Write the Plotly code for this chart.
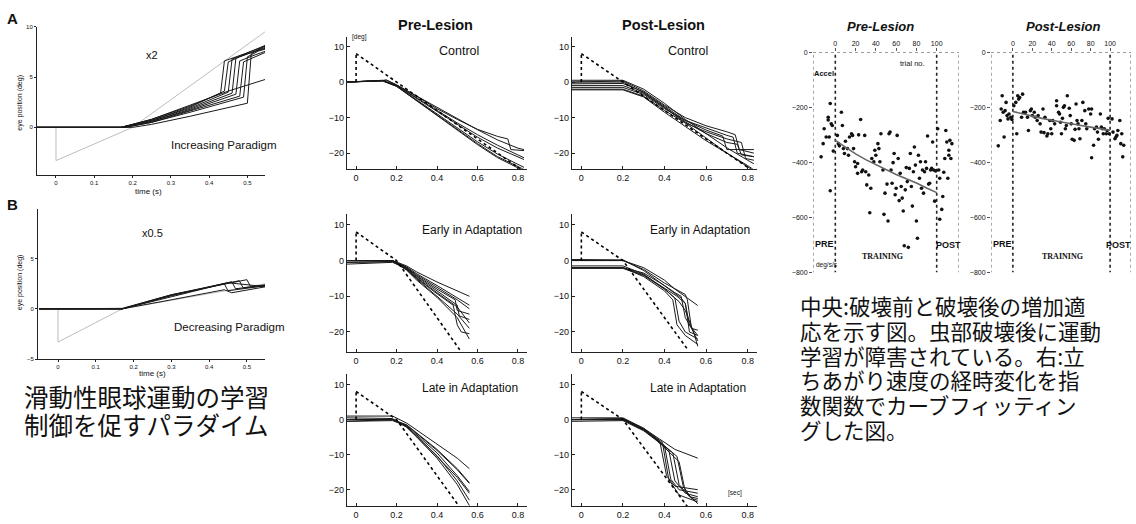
import plotly.graph_objects as go

# ======================= DATA =======================
# Panel A : increasing paradigm (x2) - (time s, eye position deg)
incr_target = [(0, 0), (0, -3.3), (0.2, 0.0), (0.55, 9.6)]
incr_traces = [
    [(-0.05, 0), (0.17, 0), (0.25, 0.8), (0.35, 2.1), (0.43, 3.4), (0.44, 6.6), (0.47, 7.0), (0.55, 8.1)],
    [(-0.05, 0), (0.17, 0), (0.25, 0.7), (0.35, 2.0), (0.44, 3.6), (0.45, 6.5), (0.48, 7.0), (0.55, 8.0)],
    [(-0.05, 0), (0.17, 0), (0.25, 0.7), (0.35, 1.9), (0.45, 3.5), (0.46, 6.8), (0.50, 7.3), (0.55, 7.9)],
    [(-0.05, 0), (0.17, 0), (0.25, 0.6), (0.35, 1.8), (0.46, 3.4), (0.47, 6.9), (0.50, 7.4), (0.55, 8.2)],
    [(-0.05, 0), (0.17, 0), (0.25, 0.6), (0.35, 1.7), (0.47, 3.3), (0.48, 6.6), (0.52, 7.2), (0.55, 7.6)],
    [(-0.05, 0), (0.18, 0), (0.25, 0.5), (0.35, 1.6), (0.48, 3.1), (0.49, 6.5), (0.52, 7.0), (0.55, 7.5)],
    [(-0.05, 0), (0.18, 0), (0.25, 0.5), (0.35, 1.5), (0.49, 3.0), (0.50, 7.0), (0.53, 7.6), (0.55, 7.8)],
    [(-0.05, 0), (0.20, 0), (0.25, 0.3), (0.35, 1.1), (0.50, 2.4), (0.51, 7.3), (0.55, 8.2)],
    [(-0.05, 0), (0.17, 0), (0.25, 0.8), (0.35, 2.2), (0.45, 3.6), (0.55, 4.8)],
]

# Panel B : decreasing paradigm (x0.5)
decr_target = [(0, 0), (0, -3.3), (0.17, 0.0), (0.55, 2.5)]
decr_traces = [
    [(-0.05, 0), (0.17, 0), (0.30, 1.2), (0.44, 2.5), (0.45, 1.8), (0.55, 2.3)],
    [(-0.05, 0), (0.17, 0), (0.30, 1.3), (0.46, 2.7), (0.47, 2.0), (0.55, 2.3)],
    [(-0.05, 0), (0.17, 0), (0.30, 1.35), (0.48, 2.8), (0.49, 2.1), (0.55, 2.35)],
    [(-0.05, 0), (0.17, 0), (0.30, 1.4), (0.50, 2.9), (0.51, 2.2), (0.55, 2.4)],
    [(-0.05, 0), (0.17, 0), (0.30, 0.9), (0.44, 1.9), (0.46, 1.6), (0.55, 2.2)],
    [(-0.05, 0), (0.17, 0.05), (0.30, 1.4), (0.45, 2.6), (0.55, 2.2)],
]

# Middle panels: target (step + ramp)
ctrl_target = [(0, 8), (0.83, -25.2)]
adapt_target = [(0, 8), (0.2, 0), (0.5125, -25)]
target_step = [(0, 0), (0, 8)]

ctrl_pre = [
    [(-0.045, 0), (0.12, 0.3), (0.15, 0.6), (0.2, -0.8), (0.3, -4.0), (0.4, -7.5), (0.5, -10.5), (0.6, -13.3), (0.7, -15.3), (0.75, -16.0), (0.765, -19.0), (0.83, -19.3)],
    [(-0.045, 0), (0.13, 0.4), (0.15, 0.5), (0.2, -0.8), (0.3, -4.0), (0.4, -7.2), (0.5, -10.3), (0.6, -13.4), (0.7, -16.3), (0.8, -18.6), (0.83, -19.0)],
    [(-0.045, 0), (0.13, 0.5), (0.2, -0.9), (0.3, -4.5), (0.4, -8.0), (0.5, -11.5), (0.6, -14.8), (0.7, -17.8), (0.8, -20.5), (0.83, -21.3)],
    [(-0.045, 0), (0.13, 0.4), (0.2, -1.0), (0.3, -4.6), (0.4, -8.3), (0.5, -12.0), (0.6, -15.5), (0.7, -18.6), (0.8, -21.2), (0.83, -21.8)],
    [(-0.045, 0), (0.13, 0.4), (0.2, -1.1), (0.3, -5.0), (0.4, -8.8), (0.5, -12.8), (0.6, -16.8), (0.7, -20.3), (0.8, -23.3), (0.83, -24.0)],
    [(-0.045, 0), (0.13, 0.3), (0.2, -1.2), (0.3, -5.2), (0.4, -9.2), (0.5, -13.3), (0.6, -17.3), (0.7, -21.0), (0.8, -23.9), (0.83, -24.6)],
    [(-0.045, 0), (0.13, 0.4), (0.2, -1.2), (0.3, -5.3), (0.4, -9.4), (0.5, -13.6), (0.6, -17.6), (0.7, -21.3), (0.8, -24.3), (0.83, -25.0)],
]
ctrl_post = [
    [(-0.045, 0), (0.2, 0.3), (0.3, -2.5), (0.4, -6.5), (0.5, -10.0), (0.6, -12.3), (0.7, -14.0), (0.74, -14.8), (0.76, -19.0), (0.83, -20.0)],
    [(-0.045, -1.5), (0.2, -1.5), (0.3, -3.5), (0.4, -7.5), (0.5, -10.8), (0.6, -13.0), (0.7, -15.0), (0.73, -15.5), (0.75, -20.0), (0.83, -21.0)],
    [(-0.045, -2.0), (0.2, -2.0), (0.3, -4.0), (0.4, -8.0), (0.5, -11.5), (0.6, -14.0), (0.7, -16.0), (0.77, -17.0), (0.79, -21.5), (0.83, -22.0)],
    [(-0.045, 0.5), (0.2, 0.5), (0.3, -2.0), (0.4, -6.0), (0.5, -10.5), (0.6, -14.5), (0.7, -18.5), (0.8, -22.0), (0.83, -23.0)],
    [(-0.045, -1.0), (0.2, -1.0), (0.3, -3.2), (0.4, -7.2), (0.5, -11.5), (0.6, -15.8), (0.7, -20.0), (0.8, -23.5), (0.83, -24.7)],
    [(-0.045, 0), (0.2, 0), (0.3, -3.0), (0.4, -7.0), (0.5, -11.2), (0.6, -14.5), (0.7, -17.0), (0.75, -17.5), (0.77, -20.5), (0.83, -21.0)],
    [(-0.045, -2.2), (0.2, -2.2), (0.3, -4.2), (0.4, -8.5), (0.5, -12.5), (0.6, -16.5), (0.7, -20.0), (0.8, -24.0), (0.83, -25.0)],
    [(-0.045, -0.5), (0.2, -0.4), (0.3, -2.8), (0.4, -6.8), (0.5, -10.8), (0.6, -13.5), (0.68, -15.2), (0.7, -19.0), (0.83, -19.0)],
]
early_pre = [
    [(-0.045, 0), (0.18, 0), (0.25, -1.5), (0.3, -3.2), (0.4, -6.0), (0.5, -8.5), (0.56, -10.0)],
    [(-0.045, 0), (0.18, 0), (0.25, -1.8), (0.3, -3.7), (0.4, -7.0), (0.5, -10.3), (0.56, -12.5)],
    [(-0.045, -0.5), (0.18, -0.3), (0.25, -2.0), (0.3, -4.0), (0.4, -7.5), (0.5, -11.0), (0.56, -13.5)],
    [(-0.045, 0), (0.18, 0), (0.25, -2.0), (0.3, -4.3), (0.4, -8.0), (0.49, -11.0), (0.5, -14.0), (0.56, -15.0)],
    [(-0.045, -1.0), (0.18, -0.5), (0.25, -2.2), (0.3, -4.5), (0.4, -8.5), (0.5, -12.5), (0.51, -15.5), (0.56, -16.5)],
    [(-0.045, 0), (0.18, 0), (0.25, -2.3), (0.3, -4.8), (0.4, -9.0), (0.5, -13.0), (0.56, -17.5)],
    [(-0.045, 0), (0.18, 0), (0.25, -2.5), (0.3, -5.0), (0.4, -9.3), (0.48, -12.5), (0.5, -18.0), (0.52, -20.0), (0.56, -20.5)],
    [(-0.045, -0.5), (0.18, -0.3), (0.25, -2.6), (0.3, -5.2), (0.4, -10.0), (0.5, -15.0), (0.56, -19.0)],
    [(-0.045, 0), (0.18, 0), (0.25, -2.7), (0.3, -5.5), (0.4, -10.3), (0.5, -16.0), (0.56, -22.0)],
]
early_post = [
    [(-0.045, 0), (0.2, 0), (0.3, -2.0), (0.4, -5.5), (0.45, -8.0), (0.5, -10.0), (0.56, -12.6)],
    [(-0.045, -2.0), (0.2, -2.0), (0.3, -3.5), (0.4, -7.0), (0.45, -9.0), (0.48, -10.0), (0.5, -16.0), (0.53, -19.0), (0.56, -19.5)],
    [(-0.045, -2.0), (0.2, -2.0), (0.3, -4.0), (0.4, -7.8), (0.46, -10.0), (0.5, -12.0), (0.52, -18.0), (0.56, -21.0)],
    [(-0.045, -1.5), (0.2, -1.5), (0.3, -3.8), (0.4, -8.0), (0.45, -10.5), (0.47, -17.0), (0.5, -20.0), (0.56, -22.0)],
    [(-0.045, 0), (0.2, 0), (0.3, -2.5), (0.4, -6.3), (0.5, -9.5), (0.51, -11.0), (0.53, -19.0), (0.56, -22.5)],
    [(-0.045, -2.0), (0.2, -2.0), (0.3, -4.5), (0.4, -8.5), (0.44, -11.0), (0.46, -18.0), (0.5, -21.0), (0.56, -23.5)],
    [(-0.045, -2.2), (0.2, -2.2), (0.3, -4.2), (0.4, -8.0), (0.47, -11.5), (0.5, -14.0), (0.54, -20.0), (0.56, -24.0)],
    [(-0.045, 0.3), (0.2, 0.2), (0.3, -2.8), (0.4, -7.0), (0.48, -10.5), (0.5, -12.0), (0.52, -20.0), (0.56, -21.0)],
]
late_pre = [
    [(-0.045, 1.0), (0.18, 1.0), (0.25, -1.0), (0.3, -3.0), (0.4, -7.0), (0.5, -11.0), (0.56, -14.0)],
    [(-0.045, 0), (0.18, 0), (0.25, -1.5), (0.3, -3.8), (0.4, -8.5), (0.5, -14.0), (0.56, -18.0)],
    [(-0.045, 0), (0.18, 0), (0.25, -1.6), (0.3, -4.0), (0.4, -8.8), (0.5, -14.3), (0.56, -18.2)],
    [(-0.045, -0.5), (0.18, -0.3), (0.25, -1.8), (0.3, -4.3), (0.4, -9.5), (0.5, -16.0), (0.56, -20.5)],
    [(-0.045, 0), (0.18, 0), (0.25, -2.0), (0.3, -4.7), (0.4, -10.3), (0.5, -17.5), (0.56, -23.0)],
    [(-0.045, 0.5), (0.18, 0.3), (0.25, -2.2), (0.3, -5.0), (0.4, -11.0), (0.5, -18.5), (0.56, -24.5)],
    [(-0.045, -0.5), (0.18, 0), (0.25, -2.1), (0.3, -4.8), (0.4, -10.5), (0.5, -16.5), (0.56, -21.0)],
]
late_post = [
    [(-0.045, 0), (0.2, 0.3), (0.3, -2.5), (0.36, -5.0), (0.45, -8.5), (0.56, -11.0)],
    [(-0.045, 0), (0.2, 0), (0.3, -2.8), (0.36, -5.5), (0.38, -7.0), (0.41, -16.0), (0.45, -19.0), (0.56, -20.0)],
    [(-0.045, 0.5), (0.2, 0.5), (0.3, -2.5), (0.36, -5.3), (0.4, -7.5), (0.43, -17.0), (0.47, -20.0), (0.56, -21.0)],
    [(-0.045, 0), (0.2, 0), (0.3, -3.0), (0.36, -5.8), (0.42, -8.5), (0.45, -17.5), (0.5, -21.0), (0.56, -22.0)],
    [(-0.045, -0.5), (0.2, -0.3), (0.3, -3.2), (0.36, -6.0), (0.44, -9.5), (0.47, -18.5), (0.52, -22.0), (0.56, -22.5)],
    [(-0.045, 0), (0.2, 0), (0.3, -2.7), (0.36, -5.5), (0.46, -10.5), (0.49, -19.0), (0.53, -22.5), (0.56, -23.0)],
    [(-0.045, 0), (0.2, 0), (0.3, -3.0), (0.36, -5.7), (0.47, -12.0), (0.5, -20.5), (0.56, -24.0)],
    [(-0.045, 0), (0.2, 0.2), (0.3, -2.6), (0.36, -5.2), (0.39, -6.5), (0.42, -17.0), (0.47, -21.5), (0.56, -23.5)],
]

# Right panels: acceleration (deg/s/s) vs trial no.
pre_pre = [(-14, -380), (-12, -332), (-11, -278), (-9, -308), (-7, -246), (-7, -236), (-5, -186),
           (-4, -260), (-3, -266), (-2, -359), (-5, -503), (-6, -308)]
pre_train = [(2, -302), (3, -332), (4, -340), (6, -218), (7, -266), (8, -350), (9, -368), (10, -323),
             (12, -350), (13, -374), (14, -308), (16, -296), (17, -302), (18, -350), (19, -398), (20, -416),
             (22, -440), (22, -404), (23, -300), (25, -244), (26, -434), (27, -428), (29, -302), (30, -434),
             (31, -482), (33, -446), (34, -583), (35, -494), (36, -386), (38, -398), (39, -356), (40, -374),
             (42, -332), (43, -350), (44, -398), (45, -296), (47, -428), (48, -589), (49, -512), (51, -479),
             (52, -613), (53, -296), (54, -290), (55, -428), (56, -476), (57, -401), (58, -368), (59, -518),
             (60, -494), (61, -302), (62, -386), (63, -539), (64, -440), (65, -488), (66, -530), (67, -577),
             (68, -703), (69, -500), (70, -419), (71, -470), (72, -709), (73, -422), (74, -368), (75, -488),
             (76, -559), (77, -434), (78, -344), (79, -410), (80, -613), (81, -676), (82, -374), (83, -458),
             (84, -398), (85, -494), (86, -428), (87, -512), (88, -434), (89, -398), (90, -422), (91, -304),
             (92, -479), (93, -476), (94, -428), (95, -422), (96, -326), (97, -428), (98, -541), (99, -431)]
pre_post = [(101, -278), (102, -428), (103, -458), (103, -607), (105, -571), (106, -524), (107, -436),
            (108, -386), (109, -284), (110, -326), (111, -458), (112, -356), (112, -374), (113, -320),
            (114, -386), (115, -332)]
post_pre = [(-15, -340), (-13, -248), (-12, -206), (-11, -158), (-10, -218), (-9, -308), (-8, -212),
            (-7, -182), (-6, -230), (-5, -242), (-4, -224), (-2, -236), (-1, -244)]
post_train = [(1, -194), (3, -182), (4, -296), (5, -158), (6, -170), (7, -164), (9, -236), (10, -152),
              (11, -218), (13, -218), (15, -236), (16, -284), (18, -212), (19, -206), (20, -230), (22, -218),
              (23, -236), (25, -248), (26, -230), (28, -260), (29, -290), (31, -206), (32, -292), (33, -236),
              (35, -304), (36, -296), (38, -248), (39, -278), (40, -296), (41, -248), (43, -260), (45, -194),
              (45, -176), (47, -218), (48, -224), (49, -254), (50, -296), (51, -240), (52, -200), (53, -194),
              (54, -278), (55, -266), (56, -158), (58, -203), (59, -230), (60, -260), (61, -316), (63, -320),
              (64, -280), (65, -188), (66, -248), (67, -260), (68, -278), (69, -314), (71, -248), (72, -182),
              (74, -212), (75, -260), (76, -278), (78, -206), (80, -224), (81, -383), (81, -206), (83, -338),
              (84, -278), (86, -272), (87, -290), (88, -316), (90, -224), (91, -272), (92, -278), (93, -296),
              (94, -278), (96, -296), (97, -284), (98, -240), (99, -296)]
post_post = [(102, -242), (103, -290), (105, -314), (106, -308), (107, -302), (108, -284), (110, -248),
             (111, -332), (112, -296), (113, -380), (114, -338)]
fit_trials = [0, 10, 20, 30, 40, 50, 60, 70, 80, 90, 100]
pre_fit = [-320, -346, -369, -390, -409, -427, -444, -460, -475, -493, -510]
post_fit = [-215, -224, -232, -240, -247, -254, -260, -266, -272, -278, -283]

left_caption = ["滑動性眼球運動の学習", "制御を促すパラダイム"]
right_caption = ["中央:破壊前と破壊後の増加適", "応を示す図。虫部破壊後に運動", "学習が障害されている。右:立",
                 "ちあがり速度の経時変化を指", "数関数でカーブフィッティン", "グした図。"]

# ======================= FIGURE =======================
W, H = 1136, 524
FONT = "Liberation Sans, Arial, sans-serif"
JP = "Noto Sans CJK JP"


def dx(a, b):
    return [a / W, b / W]


def dy(top, bottom):
    return [1 - bottom / H, 1 - top / H]


fig = go.Figure()


def add_lines(traces, ax, color="#1a1a1a", width=1.0, dash="solid"):
    for tr in traces:
        fig.add_trace(go.Scatter(x=[p[0] for p in tr], y=[p[1] for p in tr], mode="lines",
                                 line=dict(color=color, width=width, dash=dash),
                                 xaxis="x" + ax, yaxis="y" + ax, showlegend=False, hoverinfo="skip"))


def add_pts(pts, ax):
    fig.add_trace(go.Scatter(x=[p[0] for p in pts], y=[p[1] for p in pts], mode="markers",
                             marker=dict(color="#111", size=3.6), xaxis="x" + ax, yaxis="y" + ax,
                             showlegend=False, hoverinfo="skip"))


# A & B
add_lines([incr_target], "1", color="#bdbdbd", width=1)
add_lines(incr_traces, "1", width=1)
add_lines([decr_target], "2", color="#bdbdbd", width=1)
add_lines(decr_traces, "2", width=1)

# middle
for ax, traces, tgt in [("3", ctrl_pre, ctrl_target), ("4", ctrl_post, ctrl_target),
                        ("5", early_pre, adapt_target), ("6", early_post, adapt_target),
                        ("7", late_pre, adapt_target), ("8", late_post, adapt_target)]:
    add_lines(traces, ax, width=1)
    add_lines([target_step], ax, color="#000", width=1.6, dash="dot")
    add_lines([tgt], ax, color="#000", width=1.6, dash="dot")

# right
for ax, grp, fit in [("9", [pre_pre, pre_train, pre_post], pre_fit),
                     ("10", [post_pre, post_train, post_post], post_fit)]:
    for g in grp:
        add_pts(g, ax)
    fig.add_trace(go.Scatter(x=fit_trials, y=fit, mode="lines", line=dict(color="#666", width=1.6),
                             xaxis="x" + ax, yaxis="y" + ax, showlegend=False, hoverinfo="skip"))

layout = dict(width=W, height=H, margin=dict(l=0, r=0, t=0, b=0), paper_bgcolor="white",
              plot_bgcolor="rgba(0,0,0,0)", font=dict(family=FONT, color="#111"), showlegend=False)


def axis_pair(n, xd, yd, xr, yr, xt, yt, size, line_w=1.0, ticks="outside", tl=2):
    xk = "xaxis" if n == 1 else f"xaxis{n}"
    yk = "yaxis" if n == 1 else f"yaxis{n}"
    common = dict(showgrid=False, zeroline=False, showline=True, linecolor="#222", linewidth=line_w,
                  ticks=ticks, ticklen=tl, tickcolor="#222", tickfont=dict(size=size, family=FONT),
                  fixedrange=True)
    layout[xk] = dict(common, domain=xd, range=xr, tickvals=xt, anchor=f"y{n}")
    layout[yk] = dict(common, domain=yd, range=yr, tickvals=yt, anchor=f"x{n}")


axis_pair(1, dx(37, 265), dy(23, 173), [-0.0496, 0.546], [-4.7, 10], [0, 0.1, 0.2, 0.3, 0.4, 0.5], [-5, 0, 5, 10], 6)
axis_pair(2, dx(38, 265), dy(208, 360), [-0.053, 0.548], [-5, 9.9], [0, 0.1, 0.2, 0.3, 0.4, 0.5], [-5, 0, 5, 10], 6)
mx = [0, 0.2, 0.4, 0.6, 0.8]
my = [-20, -10, 0, 10]
rows = [(dy(33, 167), [-24.4, 12.8]), (dy(213, 353), [-25.7, 13]), (dy(375, 509), [-24.7, 13])]
n = 3
for yd_, yr_ in rows:
    axis_pair(n, dx(347, 527), yd_, [-0.045, 0.845], yr_, mx, my, 9, line_w=1.2, ticks="inside", tl=3)
    axis_pair(n + 1, dx(572, 757), yd_, [-0.045, 0.845], yr_, mx, my, 9, line_w=1.2, ticks="inside", tl=3)
    n += 2

for n, xd, xr in [(9, dx(813, 959), [-22, 122]), (10, dx(991, 1131), [-22.5, 121.5])]:
    common = dict(showgrid=False, zeroline=False, showline=False, ticks="outside", ticklen=3,
                  tickcolor="#555", tickfont=dict(size=7, family=FONT), fixedrange=True)
    layout[f"xaxis{n}"] = dict(common, domain=xd, range=xr, side="top", tickvals=[0, 20, 40, 60, 80, 100],
                               anchor=f"y{n}")
    layout[f"yaxis{n}"] = dict(common, domain=dy(49, 272), range=[-800, 0],
                               tickvals=[0, -200, -400, -600, -800], anchor=f"x{n}")

shapes = []
for n, xr in [(9, [-22, 122]), (10, [-22.5, 121.5])]:
    for xv, w, c in [(xr[0], 1, "#555"), (0, 1.6, "#222"), (100, 1.6, "#222"), (xr[1], 1, "#555")]:
        shapes.append(dict(type="line", xref=f"x{n}", yref=f"y{n}", x0=xv, x1=xv, y0=-805, y1=0,
                           line=dict(color=c, width=w, dash="dot"), layer="below"))
    shapes.append(dict(type="line", xref=f"x{n}", yref=f"y{n}", x0=xr[0], x1=xr[1], y0=0, y1=0,
                       line=dict(color="#666", width=1, dash="dot"), layer="below"))
layout["shapes"] = shapes

anns = []


def ann(text, x, y, size, family=FONT, xanchor="center", angle=0, color="#111", align="center"):
    anns.append(dict(text=text, x=x / W, y=1 - y / H, xref="paper", yref="paper", showarrow=False,
                     xanchor=xanchor, yanchor="middle", textangle=angle, align=align,
                     font=dict(size=size, family=family, color=color)))


ann("<b>A</b>", 12, 15, 15)
ann("<b>B</b>", 12, 203, 15)
ann("x2", 152, 52, 11)
ann("x0.5", 153, 232, 11)
ann("Increasing Paradigm", 223, 143, 11.5)
ann("Decreasing Paradigm", 172, 327, 11.5, xanchor="left")
ann("time (s)", 148, 190, 8)
ann("time (s)", 153, 375, 8)
ann("eye position (deg)", 20, 100, 7, angle=-90)
ann("eye position (deg)", 20, 282, 7, angle=-90)

ann("<b>Pre-Lesion</b>", 435, 21, 14.5)
ann("<b>Post-Lesion</b>", 663, 21, 14.5)
ann("[deg]", 359, 33, 6.5)
ann("Control", 459, 48, 12.5)
ann("Control", 688, 48, 12.5)
ann("Early in Adaptation", 472, 229, 12)
ann("Early in Adaptation", 700, 229, 12)
ann("Late in Adaptation", 470, 389, 12)
ann("Late in Adaptation", 698, 389, 12)
ann("[sec]", 735, 496, 6.5)

ann("<b><i>Pre-Lesion</i></b>", 880, 23, 13)
ann("<b><i>Post-Lesion</i></b>", 1063, 23, 13)
ann("trial no.", 912, 60, 7.5)
ann("<b>Accel</b>", 824, 70, 7.5)
ann("<b>PRE</b>", 825, 243, 9)
ann("<b>POST</b>", 948, 244, 9)
ann("<b>TRAINING</b>", 882, 256, 8, family="Liberation Serif, Times New Roman, serif")
ann("deg/s/s", 827, 265, 6.5)
ann("<b>PRE</b>", 1002, 243, 9)
ann("<b>POST</b>", 1118, 244, 9)
ann("<b>TRAINING</b>", 1062, 256, 8, family="Liberation Serif, Times New Roman, serif")

# captions: one text per line, tight leading as in the reference
for i, line in enumerate(left_caption):
    ann(line, 22, 398 + 28 * i, 24.5, family=JP, xanchor="left", align="left")
for i, line in enumerate(right_caption):
    ann(line, 798, 306 + 25 * i, 21.5, family=JP, xanchor="left", align="left")

layout["annotations"] = anns
fig.update_layout(layout)

fig.write_html("out.html", config={"displayModeBar": False, "staticPlot": True},
               post_script="document.body.style.margin='0';document.body.style.overflow='hidden';")
